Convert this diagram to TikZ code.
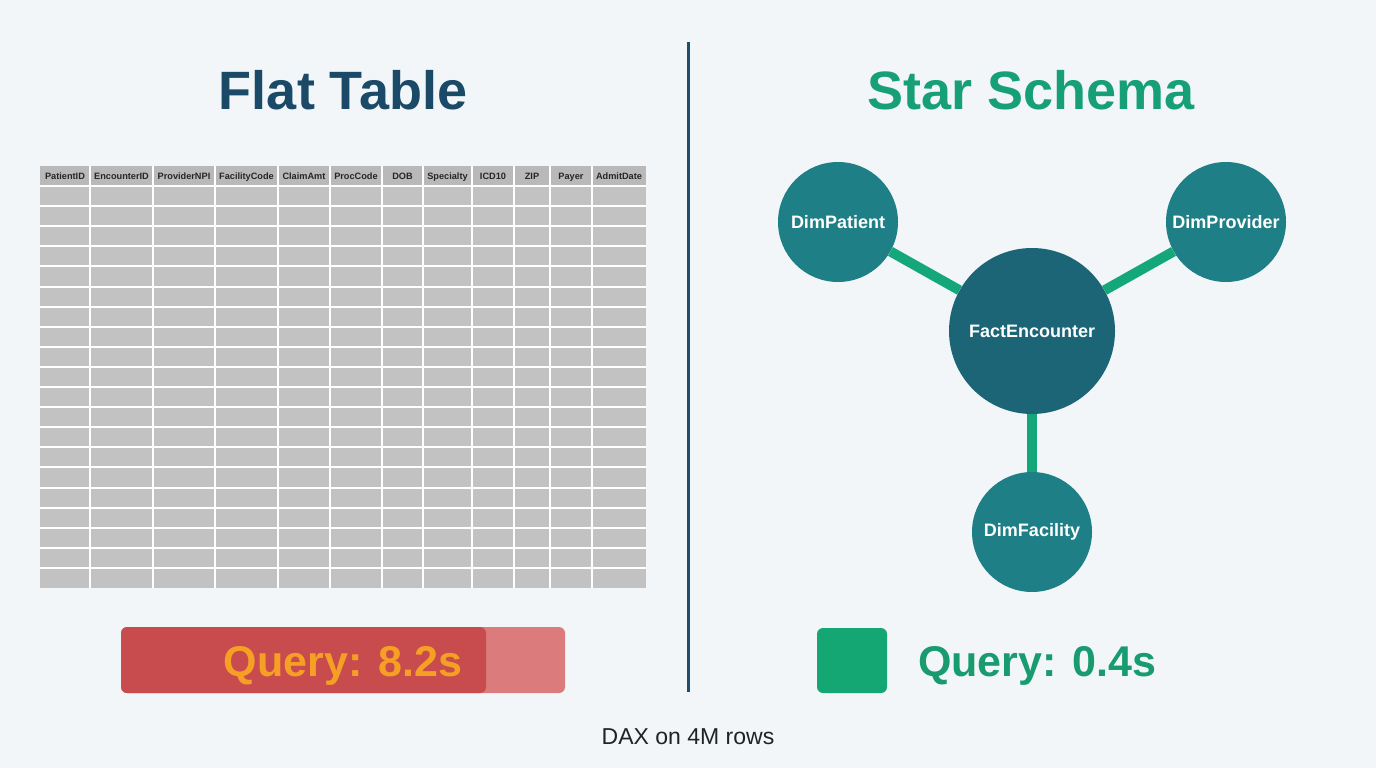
\documentclass[tikz,border=0pt]{standalone}
\usepackage{fontspec}
\setmainfont{Liberation Sans}
\definecolor{bgc}{HTML}{F2F6F9}
\definecolor{navy}{HTML}{1B4A68}
\definecolor{titlegreen}{HTML}{17A077}
\definecolor{divider}{HTML}{1D4E6B}
\definecolor{cellgray}{HTML}{C2C2C2}
\definecolor{headgray}{HTML}{B9B9B9}
\definecolor{dimteal}{HTML}{1F7F86}
\definecolor{factteal}{HTML}{1B6577}
\definecolor{linkgreen}{HTML}{14A77A}
\definecolor{bardark}{HTML}{C84C4E}
\definecolor{barlight}{HTML}{DC7B7B}
\definecolor{orangetxt}{HTML}{F5A024}
\definecolor{sqgreen}{HTML}{14A774}
\definecolor{qgreen}{HTML}{189B6E}
\definecolor{captxt}{HTML}{222222}
\tikzset{
  title/.style={font=\fontsize{54}{60}\selectfont\bfseries, inner sep=0pt},
  head/.style={font=\fontsize{9.2}{10}\selectfont\bfseries, text=black!85, inner sep=0pt, text height=6.8pt, text depth=0pt},
  dimnode/.style={circle, fill=dimteal, minimum size=120pt, inner sep=0pt, text=white, font=\fontsize{18}{20}\selectfont\bfseries},
  factnode/.style={circle, fill=factteal, minimum size=166pt, inner sep=0pt, text=white, font=\fontsize{18}{20}\selectfont\bfseries},
  link/.style={draw=linkgreen, line width=10pt},
  query/.style={font=\fontsize{43}{48}\selectfont\bfseries, inner sep=0pt},
}
\begin{document}
\begin{tikzpicture}[x=1pt,y=-1pt]
\useasboundingbox (0,0) rectangle (1376,768);
\fill[bgc] (0,0) rectangle (1376,768);

% titles
\node[title, text=navy, anchor=base] (flattitle) at (343,110) {Flat Table};
\node[title, text=titlegreen, anchor=base] (startitle) at (1031,110) {Star Schema};

% divider
\draw[divider, line width=3pt] (688,42) -- (688,692);

% table
\fill[cellgray] (40,166) rectangle (646,588);
\fill[headgray] (40,166) rectangle (646,186);
\foreach \x in {90,153,215,278,330,382,423,472,514,550,592}
  \draw[white, line width=2pt] (\x,166) -- (\x,588);
\foreach \i in {0,...,19}
  \draw[white, line width=2pt] (40,186+\i*20.1) -- (646,186+\i*20.1);

\foreach \a/\b/\t/\n in {40/90/PatientID/h1, 90/153/EncounterID/h2, 153/215/ProviderNPI/h3,
  215/278/FacilityCode/h4, 278/330/ClaimAmt/h5, 330/382/ProcCode/h6, 382/423/DOB/h7,
  423/472/Specialty/h8, 472/514/ICD10/h9, 514/550/ZIP/h10, 550/592/Payer/h11, 592/646/AdmitDate/h12}
  \node[head, anchor=base] (\n) at ({(\a+\b)/2},179.5) {\t};

% query bar left
\fill[barlight, rounded corners=6pt] (121,627) rectangle (565,693);
\fill[bardark, rounded corners=6pt] (121,627) rectangle (486,693);
\node[query, text=orangetxt, anchor=base] (q1) at (343,676) {Query: 8.2s};

% star schema
\node[dimnode] (pat) at (838,222) {DimPatient};
\node[dimnode] (prov) at (1226,222) {DimProvider};
\node[factnode] (fact) at (1032,331) {FactEncounter};
\node[dimnode] (fac) at (1032,532) {DimFacility};
\draw[link] (pat) -- (fact);
\draw[link] (prov) -- (fact);
\draw[link] (fac) -- (fact);

% query right
\fill[sqgreen, rounded corners=6pt] (817,628) rectangle (887,693);
\node[query, text=qgreen, anchor=base west] (q2) at (918,676) {Query: 0.4s};

% caption
\node[font=\fontsize{23}{26}\selectfont, text=captxt, inner sep=0pt, anchor=base] (cap) at (688,744) {DAX on 4M rows};
\end{tikzpicture}
\end{document}
